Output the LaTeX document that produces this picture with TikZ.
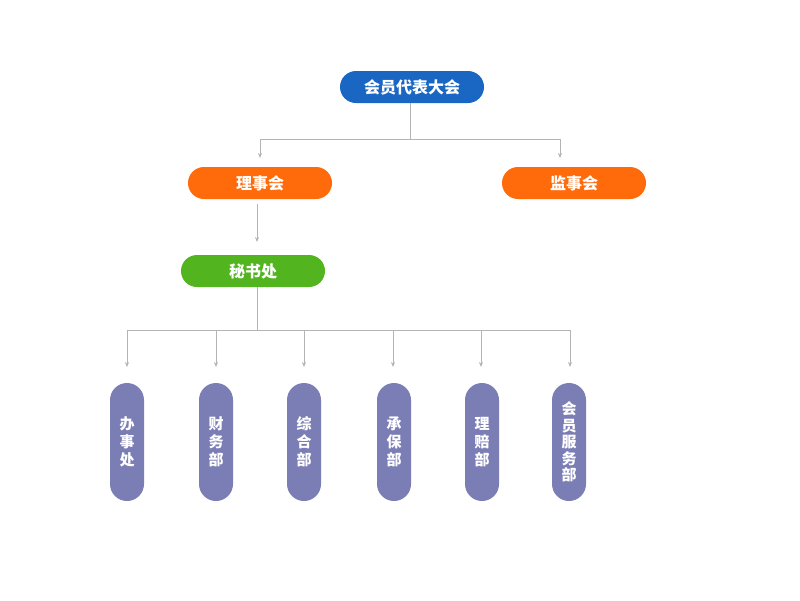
\documentclass[tikz,border=0pt]{standalone}
\usepackage{fontspec}
\newfontfamily\cjk{Noto Sans CJK SC}
\usetikzlibrary{arrows.meta}
\definecolor{cblue}{HTML}{1967C2}
\definecolor{corange}{HTML}{FF6A0A}
\definecolor{cgreen}{HTML}{52B520}
\definecolor{cpurple}{HTML}{7B7DB5}
\definecolor{cline}{HTML}{B4B4B4}
\tikzset{
  pill/.style={rounded corners=16pt, minimum width=144pt, minimum height=32pt, inner sep=0pt, text=white, font=\cjk\bfseries\fontsize{16}{18}\selectfont},
  vpill/.style={rounded corners=17pt, minimum width=34pt, minimum height=118pt, inner sep=0pt, fill=cpurple, text=white, align=center, font=\cjk\bfseries\fontsize{15}{18}\selectfont},
  vpillfive/.style={vpill, font=\cjk\bfseries\fontsize{15}{16.5}\selectfont},
  conn/.style={draw=cline, line width=0.8pt},
  arr/.style={conn, -{Stealth[length=5pt,width=4pt]}}
}
\begin{document}
\begin{tikzpicture}[x=1pt,y=-1pt]
\useasboundingbox (0,0) rectangle (800,600);
\node[pill, fill=cblue] (top) at (412,87) {会员代表大会};
\node[pill, fill=corange] (lsh) at (260,183) {理事会};
\node[pill, fill=corange] (jsh) at (574,183) {监事会};
\node[pill, fill=cgreen] (msc) at (253,271) {秘书处};
\node[vpill] (d1) at (127,442) {办\\事\\处};
\node[vpill] (d2) at (216,442) {财\\务\\部};
\node[vpill] (d3) at (304,442) {综\\合\\部};
\node[vpill] (d4) at (394,442) {承\\保\\部};
\node[vpill] (d5) at (482,442) {理\\赔\\部};
\node[vpillfive] (d6) at (569,442) {会\\员\\服\\务\\部};
% top level connectors
\coordinate (b1) at (410,139);
\coordinate (a1) at (260,158);
\coordinate (a2) at (560,158);
\draw[conn] (410,103) -- (b1);
\draw[conn] (260,139) -- (560,139);
\draw[arr] (260,139) -- (a1);
\draw[arr] (560,139) -- (a2);
% lsh to msc
\coordinate (a3) at (257,242);
\draw[arr] (257,204) -- (a3);
% msc to departments
\coordinate (b2) at (257,330);
\draw[conn] (msc.south -| b2) -- (b2);
\draw[conn] (127,330) -- (570,330);
\foreach \x in {127,216,304,393,481,570}{
  \draw[arr] (\x,330) -- (\x,367);
}
\end{tikzpicture}
\end{document}
